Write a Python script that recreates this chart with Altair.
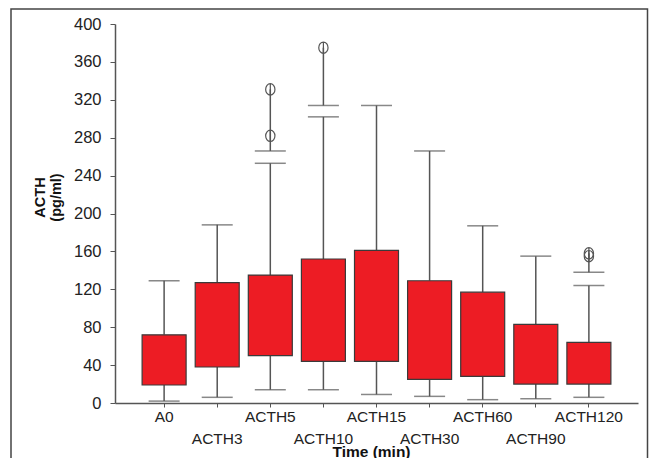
import altair as alt
import pandas as pd

# ---- data ----
cats = ["A0", "ACTH3", "ACTH5", "ACTH10", "ACTH15", "ACTH30", "ACTH60", "ACTH90", "ACTH120"]
q1 = [19, 38, 50, 44, 44, 25, 28, 20, 20]
q3 = [72, 127, 135, 152, 161, 129, 117, 83, 64]
whisk_lo = [2, 6, 14, 14, 9, 7, 3.5, 4.5, 6]
whisk_hi = [129, 188, 253, 302, 314, 266, 187, 155, 124]

extra_cap_cat = ["ACTH5", "ACTH10", "ACTH120"]
extra_cap_val = [266, 314, 138]

outlier_cat = ["ACTH5", "ACTH5", "ACTH10", "ACTH120", "ACTH120"]
outlier_val = [282, 331, 375, 155, 158]

y_ticks = [0, 40, 80, 120, 160, 200, 240, 280, 320, 360, 400]

# ---- tables ----
box_df = pd.DataFrame({"cat": cats, "q1": q1, "q3": q3, "lo": whisk_lo, "hi": whisk_hi})
cap_df = pd.DataFrame({"cat": cats * 2 + extra_cap_cat,
                       "v": whisk_lo + whisk_hi + extra_cap_val})
out_df = pd.DataFrame({"cat": outlier_cat, "v": outlier_val})
top_out = out_df.groupby("cat")["v"].max()
seg_df = pd.DataFrame({"cat": extra_cap_cat, "a": extra_cap_val,
                       "b": [top_out[c] for c in extra_cap_cat]})

odd = cats[1::2]
odd_js = "[" + ",".join("'%s'" % c for c in odd) + "]"

FONT = "Liberation Sans"
LINE = "#555555"

x_axis = alt.Axis(
    title="Time (min)", labelAngle=0, labelFont=FONT, labelFontSize=15.5, labelColor="#222",
    labelExpr="indexof(%s, datum.value) >= 0 ? ['', datum.label] : datum.label" % odd_js,
    labelLineHeight=22.5, labelBaseline="top", labelPadding=2,
    tickSize=4, tickColor=LINE, domainColor=LINE, domainWidth=1.5,
    titleFont=FONT, titleFontSize=15.5, titleFontWeight="bold", titleColor="#111",
    titleX=256, titleY=41, titleBaseline="top", titleAnchor="start", titleAlign="center",
)
y_axis = alt.Axis(
    title=["ACTH", "(pg/ml)"], values=y_ticks, labelFont=FONT, labelFontSize=16.5,
    labelColor="#222", labelPadding=9, tickSize=5, tickColor=LINE, domainColor=LINE,
    domainWidth=1.5, grid=False,
    titleFont=FONT, titleFontSize=14.5, titleFontWeight="bold", titleColor="#111",
    titleAngle=270, titleX=-75, titleY=173, titleBaseline="middle", titleAlign="center",
    titleLineHeight=16.5, titleAnchor="start",
)
x_enc = alt.X("cat:N", sort=cats, axis=x_axis,
              scale=alt.Scale(domain=cats, paddingInner=0, paddingOuter=0.425))
y_scale = alt.Scale(domain=[0, 400], nice=False, zero=True)


def Y(field):
    return alt.Y(field + ":Q", scale=y_scale, axis=y_axis)


base = alt.Chart(box_df)

lower = base.mark_rule(color=LINE, strokeWidth=1.5).encode(x=x_enc, y=Y("lo"), y2="q1:Q")
upper = base.mark_rule(color=LINE, strokeWidth=1.5).encode(x=x_enc, y=Y("q3"), y2="hi:Q")
boxes = base.mark_bar(size=44, color="#ED1C24", stroke="#3a3a3a", strokeWidth=1.2).encode(
    x=x_enc, y=Y("q1"), y2="q3:Q")
caps = alt.Chart(cap_df).mark_tick(size=31, thickness=1.5, color=LINE).encode(x=x_enc, y=Y("v"))
segs = alt.Chart(seg_df).mark_rule(color=LINE, strokeWidth=1.5).encode(x=x_enc, y=Y("a"), y2="b:Q")
outs = alt.Chart(out_df).mark_point(
    shape="M-0.82,0A0.82,1,0,1,1,0.82,0A0.82,1,0,1,1,-0.82,0M0,-1L0,1",
    size=128, filled=False, color=LINE, strokeWidth=1.2, opacity=1,
).encode(x=x_enc, y=Y("v"))

frame = alt.Chart(alt.Data(values=[{"k": 1}])).mark_rect(
    fillOpacity=0, stroke="#444", strokeWidth=1.5
).encode(x=alt.value(-104), x2=alt.value(532.5), y=alt.value(-15), y2=alt.value(445))

chart = alt.layer(lower, upper, boxes, caps, segs, outs, frame).properties(
    width=523, height=379,
    autosize=alt.AutoSizeParams(type="none"),
    padding={"left": 107, "top": 16, "right": 11, "bottom": 60},
    background="white",
).configure_view(stroke=None)

chart.save("out.html", embed_options={"renderer": "svg", "actions": False})
